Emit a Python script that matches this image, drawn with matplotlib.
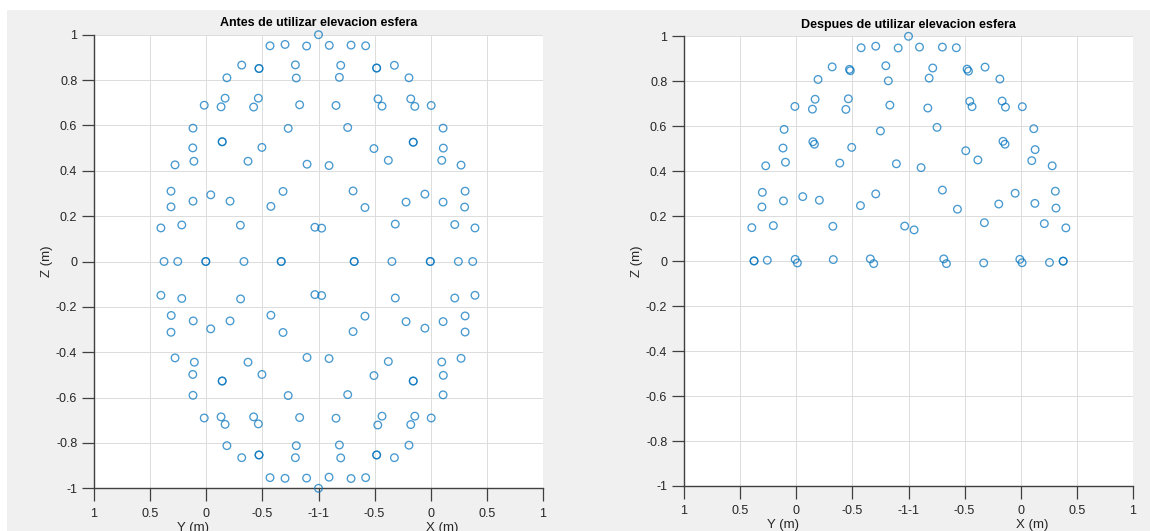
import matplotlib
matplotlib.use("Agg")
import matplotlib.pyplot as plt
import matplotlib.transforms as mtransforms
from matplotlib.patches import Rectangle
import numpy as np

plt.rcParams['font.family'] = ['Liberation Sans', 'DejaVu Sans']

# Horizontal coordinate: projection of (X, Y) on the screen, h in [-1, 1]
# (left edge = Y 1, centre = Y -1 / X -1, right edge = X 1)
x_tick_pos = [-1, -0.75, -0.5, -0.25, 0, 0.25, 0.5, 0.75, 1]
x_tick_labels = ['1', '0.5', '0', '-0.5', '-1-1', '-0.5', '0', '0.5', '1']
z_ticks = [-1, -0.8, -0.6, -0.4, -0.2, 0, 0.2, 0.4, 0.6, 0.8, 1]
z_tick_labels = ['-1', '-0.8', '-0.6', '-0.4', '-0.2', '0', '0.2', '0.4', '0.6', '0.8', '1']

titles = ['Antes de utilizar elevacion esfera', 'Despues de utilizar elevacion esfera']

# ---- Before (full sphere) ----
before_h = [
    0.0, -0.216, -0.149, -0.053, -0.342, -0.265, -0.265, -0.103, -0.408, -0.099,
    -0.416, -0.268, -0.509, -0.434, -0.289, -0.084, -0.559, -0.135, -0.429, -0.429,
    -0.560, -0.252, -0.555, -0.314, -0.639, -0.051, -0.657, -0.158, -0.480, -0.559,
    -0.394, -0.657, -0.212, -0.702, -0.609, -0.348, -0.016, 0.014,
    -0.688, -0.627, -0.502, -0.502, -0.332, -0.166, -0.166, 0.159, 0.159, 0.327,
    0.498, 0.498, 0.623, 0.687,
    0.048, 0.145, 0.210, 0.099, 0.259, 0.259, 0.338, 0.093, 0.403, 0.265,
    0.411, 0.078, 0.283, 0.429, 0.502, 0.130, 0.555, 0.422, 0.422, 0.247,
    0.556, 0.311, 0.549, 0.047, 0.635, 0.154, 0.653, 0.474, 0.207, 0.390,
    0.555, 0.651, 0.342, 0.607, 0.697,
    -0.702, -0.609, -0.347, -0.016, 0.014, -0.656, -0.558, -0.394, -0.480, -0.212,
    -0.657, -0.158, -0.639, -0.553, -0.314, -0.051, -0.560, -0.252, -0.429, -0.429,
    -0.559, -0.135, -0.509, -0.434, -0.416, -0.289, -0.268, -0.084, -0.408, -0.099,
    -0.342, -0.265, -0.265, -0.103, -0.216, -0.149, -0.053, 0.0,
    0.342, 0.607, 0.697, 0.207, 0.154, 0.390, 0.474, 0.555, 0.653, 0.653,
    0.047, 0.311, 0.549, 0.635, 0.247, 0.556, 0.422, 0.422, 0.130, 0.555,
    0.078, 0.283, 0.264, 0.429, 0.411, 0.502, 0.093, 0.403, 0.099, 0.259,
    0.259, 0.338, 0.047, 0.145, 0.210,
]
before_z = [
    1.0, 0.951, 0.957, 0.950, 0.866, 0.851, 0.851, 0.867, 0.810, 0.809,
    0.720, 0.720, 0.689, 0.682, 0.681, 0.691, 0.588, 0.587, 0.528, 0.528,
    0.501, 0.503, 0.442, 0.442, 0.426, 0.429, 0.310, 0.309, 0.294, 0.266,
    0.266, 0.241, 0.243, 0.148, 0.161, 0.160, 0.151, 0.147,
    0.0, 0.0, 0.0, 0.0, 0.0, 0.0, 0.0, 0.0, 0.0, 0.0,
    0.0, 0.0, 0.0, 0.0,
    0.953, 0.954, 0.951, 0.865, 0.853, 0.853, 0.865, 0.812, 0.810, 0.717,
    0.717, 0.688, 0.685, 0.684, 0.688, 0.591, 0.588, 0.526, 0.526, 0.498,
    0.500, 0.446, 0.446, 0.423, 0.425, 0.311, 0.310, 0.297, 0.238, 0.262,
    0.262, 0.240, 0.165, 0.163, 0.148,
    -0.149, -0.163, -0.165, -0.146, -0.150, -0.238, -0.262, -0.262, -0.297, -0.237,
    -0.312, -0.313, -0.425, -0.444, -0.444, -0.423, -0.498, -0.498, -0.527, -0.527,
    -0.590, -0.591, -0.690, -0.685, -0.718, -0.685, -0.716, -0.688, -0.812, -0.812,
    -0.865, -0.853, -0.853, -0.865, -0.953, -0.956, -0.955, -1.0,
    -0.161, -0.161, -0.149, -0.241, -0.309, -0.265, -0.294, -0.265, -0.240, -0.311,
    -0.428, -0.441, -0.443, -0.427, -0.503, -0.502, -0.527, -0.527, -0.587, -0.588,
    -0.691, -0.682, -0.721, -0.682, -0.719, -0.690, -0.809, -0.810, -0.866, -0.853,
    -0.853, -0.865, -0.951, -0.957, -0.953,
]

# ---- After (upper hemisphere) ----
after_h = [
    0.0, -0.211, -0.146, -0.046, -0.340, -0.263, -0.259, -0.101, -0.403, -0.090,
    -0.416, -0.268, -0.506, -0.428, -0.279, -0.083, -0.554, -0.125, -0.426, -0.419,
    -0.559, -0.253, -0.548, -0.306, -0.636, -0.054, -0.651, -0.146, -0.471, -0.557,
    -0.397, -0.653, -0.214, -0.698, -0.602, -0.337, -0.017, 0.025,
    -0.688, -0.688, -0.629, -0.505, -0.495, -0.335, -0.170, -0.155, 0.157, 0.169,
    0.335, 0.496, 0.506, 0.628, 0.689, 0.689,
    0.049, 0.151, 0.213, 0.108, 0.261, 0.267, 0.341, 0.092, 0.407, 0.273,
    0.283, 0.417, 0.432, 0.086, 0.507, 0.127, 0.558, 0.421, 0.430, 0.255,
    0.564, 0.309, 0.549, 0.056, 0.640, 0.151, 0.475, 0.654, 0.402, 0.563,
    0.218, 0.657, 0.338, 0.605, 0.701,
]
after_z = [
    1.0, 0.949, 0.956, 0.948, 0.864, 0.853, 0.847, 0.869, 0.808, 0.802,
    0.720, 0.722, 0.688, 0.676, 0.675, 0.694, 0.586, 0.579, 0.531, 0.520,
    0.503, 0.506, 0.440, 0.436, 0.424, 0.433, 0.306, 0.299, 0.287, 0.268,
    0.271, 0.241, 0.247, 0.149, 0.158, 0.155, 0.156, 0.139,
    0.001, 0.001, 0.004, 0.008, -0.008, 0.007, 0.010, -0.011, 0.010, -0.011,
    -0.008, 0.008, -0.007, -0.006, 0.0, 0.0,
    0.952, 0.952, 0.949, 0.859, 0.854, 0.845, 0.863, 0.814, 0.810, 0.711,
    0.687, 0.712, 0.685, 0.681, 0.687, 0.595, 0.589, 0.533, 0.520, 0.491,
    0.496, 0.450, 0.447, 0.416, 0.424, 0.316, 0.302, 0.311, 0.254, 0.257,
    0.231, 0.236, 0.171, 0.167, 0.148,
]

W, H = 1150, 531
fig = plt.figure(figsize=(W / 100, H / 100), dpi=100, facecolor='white')
# grey figure panel (white margin at top and left, as in the screenshot)
fig.patches.append(Rectangle((7 / W, 0), 1 - 7 / W, 1 - 10 / H,
                             transform=fig.transFigure, facecolor='#f0f0f0',
                             edgecolor='none', zorder=-10))

positions = [
    [94 / W, 1 - 488.3 / H, 449 / W, (488.3 - 34.7) / H],
    [684 / W, 1 - 486 / H, 449 / W, (486 - 36.3) / H],
]
datasets = [(before_h, before_z), (after_h, after_z)]
txt_col = '#262626'
axis_col = '#404040'

for pos, (hh, zz), title in zip(positions, datasets, titles):
    ax = fig.add_axes(pos)
    ax.set_facecolor('white')
    ax.scatter(hh, zz, s=30, facecolors='none', edgecolors='#0072BD',
               linewidths=0.95, alpha=0.72, zorder=3, clip_on=False)
    ax.set_xlim(-1, 1)
    ax.set_ylim(-1, 1)
    ax.set_xticks(x_tick_pos)
    ax.set_xticklabels(x_tick_labels)
    ax.set_yticks(z_ticks)
    ax.set_yticklabels(z_tick_labels)
    ax.grid(True, color='#dcdcdc', linewidth=0.7, zorder=0)
    ax.set_axisbelow(True)
    for s in ['top', 'right']:
        ax.spines[s].set_visible(False)
    for s in ['left', 'bottom']:
        ax.spines[s].set_color(axis_col)
        ax.spines[s].set_linewidth(1.0)
    ax.tick_params(axis='x', direction='out', length=9, width=0.9, pad=5,
                   colors=axis_col, labelcolor=txt_col, labelsize=9)
    ax.tick_params(axis='y', direction='out', length=9, width=0.9, pad=3,
                   colors=axis_col, labelcolor=txt_col, labelsize=9)
    ax.set_title(title, fontsize=9, fontweight='bold', color='black', pad=6)
    ax.set_ylabel('Z (m)', fontsize=9.5, color=txt_col, labelpad=2)
    trans = mtransforms.blended_transform_factory(ax.transData, ax.transAxes)
    ax.text(-0.56, -0.087, 'Y (m)', transform=trans, ha='center', va='center',
            fontsize=9.5, color=txt_col)
    ax.text(0.55, -0.087, 'X (m)', transform=trans, ha='center', va='center',
            fontsize=9.5, color=txt_col)

fig.savefig('out.png', dpi=100, facecolor=fig.get_facecolor())
